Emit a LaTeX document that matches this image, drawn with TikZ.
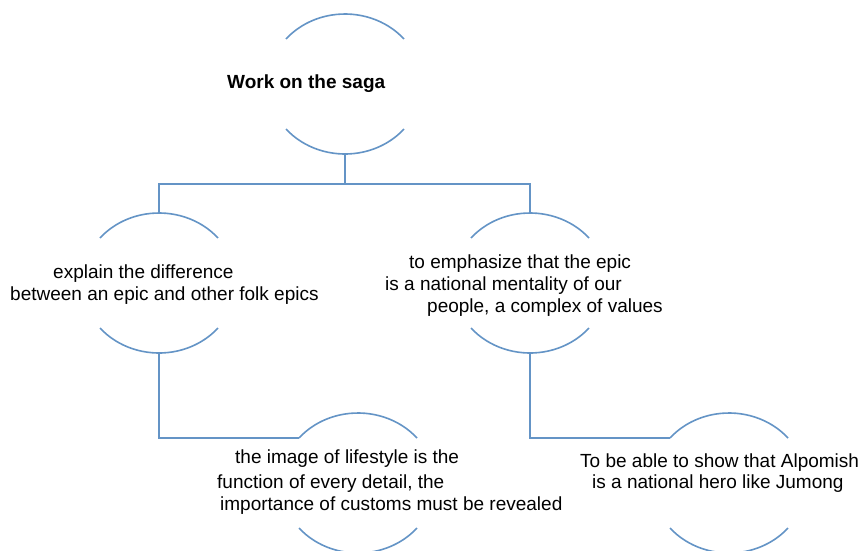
\documentclass[tikz,border=0pt]{standalone}
\usepackage{fontspec}
\setmainfont{Liberation Sans}
\definecolor{linec}{RGB}{100,148,198}
\begin{document}
\begin{tikzpicture}[x=1pt,y=1pt,
  ring/.style={circle,draw=none,minimum size=140pt,inner sep=0pt,outer sep=0pt},
  conn/.style={draw=linec,line width=1.6pt},
  txt/.style={anchor=base west,inner sep=0pt,font=\fontsize{19}{22}\selectfont}]
\useasboundingbox (0,0) rectangle (865,-550);
\fill[white] (0,0) rectangle (865,-550);
\node[ring] (c0) at (345,-84) {};
\node[ring] (c1) at (159,-283) {};
\node[ring] (c2) at (530,-283) {};
\node[ring] (c3) at (358,-483) {};
\node[ring] (c4) at (729,-483) {};
\foreach \n in {c0,c1,c2,c3,c4}{
  \draw[conn] ([shift={(40:77pt and 70pt)}]\n.center) arc[start angle=40,end angle=140,x radius=77pt,y radius=70pt];
  \draw[conn] ([shift={(220:77pt and 70pt)}]\n.center) arc[start angle=220,end angle=320,x radius=77pt,y radius=70pt];
}
\coordinate (j) at (345,-184);
\coordinate (c3w) at ([shift={(140:77pt and 70pt)}]c3.center);
\coordinate (c4w) at ([shift={(140:77pt and 70pt)}]c4.center);
\draw[conn] (c0.south) -- (j);
\draw[conn] (c1.north) |- (j) -| (c2.north);
\draw[conn] (c1.south) |- (c3w);
\draw[conn] (c2.south) |- (c4w);
\node[txt,font=\fontsize{19}{22}\selectfont\bfseries] (t0) at (227,-88) {Work on the saga};
\node[txt] (t1a) at (53,-278) {explain the difference};
\node[txt] (t1b) at (10,-300) {between an epic and other folk epics};
\node[txt] (t2a) at (409,-268) {to emphasize that the epic};
\node[txt] (t2b) at (385,-290) {is a national mentality of our};
\node[txt] (t2c) at (427,-312) {people, a complex of values};
\node[txt] (t3a) at (235,-463) {the image of lifestyle is the};
\node[txt] (t3b) at (217,-488) {function of every detail, the};
\node[txt] (t3c) at (220,-510) {importance of customs must be revealed};
\node[txt] (t4a) at (580,-467) {To be able to show that Alpomish};
\node[txt] (t4b) at (592,-488) {is a national hero like Jumong};
\end{tikzpicture}
\end{document}
